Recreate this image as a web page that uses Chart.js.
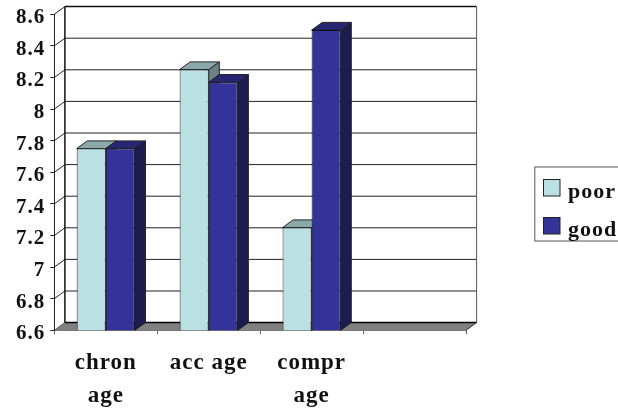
<!DOCTYPE html>
<html>
<head>
<meta charset="utf-8">
<title>Age chart</title>
<script src="https://cdn.jsdelivr.net/npm/chart.js@4/dist/chart.umd.min.js"></script>
<style>
  html, body { margin: 0; padding: 0; background: #fff; }
  canvas { display: block; }
</style>
</head>
<body>
<canvas id="chart" width="618" height="408"></canvas>
<script>
const categories = [["chron", "age"], "acc age", ["compr", "age"], ""];
const poorValues = [7.75, 8.25, 7.25, null];
const goodValues = [7.75, 8.17, 8.5, null];
const yTicks = [6.6, 6.8, 7, 7.2, 7.4, 7.6, 7.8, 8, 8.2, 8.4, 8.6];

const DEPTH_X = 10.6;
const DEPTH_Y = -7.7;
const FONT = { family: "'Liberation Serif', serif", weight: "bold", size: 21 };

function poly(ctx, points, fill, stroke) {
  ctx.beginPath();
  points.forEach((p, i) => (i ? ctx.lineTo(p[0], p[1]) : ctx.moveTo(p[0], p[1])));
  ctx.closePath();
  ctx.fillStyle = fill;
  ctx.fill();
  if (stroke) {
    ctx.lineWidth = 1;
    ctx.strokeStyle = stroke;
    ctx.stroke();
  }
}

function line(ctx, x1, y1, x2, y2, color, width) {
  ctx.beginPath();
  ctx.moveTo(x1, y1);
  ctx.lineTo(x2, y2);
  ctx.lineWidth = width || 1;
  ctx.strokeStyle = color;
  ctx.stroke();
}

const depthPlugin = {
  id: "depth",
  afterLayout(chart) {
    // the legend sits outside the plot and runs off the right edge
    const legend = chart.legend;
    legend.left = 527.3;
    legend.right = 700;
    legend.top = 165.5;
    legend.bottom = 300;
  },
  beforeDraw(chart) {
    chart.ctx.letterSpacing = "1px";
    const ctx = chart.ctx;
    ctx.save();
    ctx.lineWidth = 1;
    ctx.strokeStyle = "#555";
    ctx.strokeRect(534.8, 167, 100, 74);
    // swatches sit higher than the legend text, the library centres them on it
    chart.data.datasets.forEach((ds, i) => {
      ctx.fillStyle = ds.backgroundColor;
      ctx.fillRect(543.5, 179.5 + i * 38, 16.5, 16.5);
      ctx.strokeStyle = "#222";
      ctx.strokeRect(543.5, 179.5 + i * 38, 16.5, 16.5);
    });
    ctx.restore();
  },
  beforeDatasetsDraw(chart) {
    const ctx = chart.ctx;
    const { left, right, top, bottom } = chart.chartArea;
    const yScale = chart.scales.y;
    ctx.save();
    // back wall grid lines
    yTicks.slice(1, -1).forEach((v) => {
      const y = yScale.getPixelForValue(v) + DEPTH_Y;
      line(ctx, left + DEPTH_X, y, right + DEPTH_X, y, "#222");
    });
    // side ticks running back from the front axis
    yTicks.forEach((v) => {
      const y = yScale.getPixelForValue(v);
      line(ctx, left, y, left + DEPTH_X, y + DEPTH_Y, "#222");
    });
    // floor
    poly(ctx, [
      [left, bottom],
      [left + DEPTH_X, bottom + DEPTH_Y],
      [right + DEPTH_X, bottom + DEPTH_Y],
      [right, bottom],
    ], "#808080");
    line(ctx, left + DEPTH_X, bottom + DEPTH_Y, right + DEPTH_X, bottom + DEPTH_Y, "#000", 1.5);
    line(ctx, right, bottom, right + DEPTH_X, bottom + DEPTH_Y, "#333");
    // walls
    line(ctx, left + DEPTH_X, top + DEPTH_Y, right + DEPTH_X, top + DEPTH_Y, "#111", 1.5);
    line(ctx, left + DEPTH_X, top + DEPTH_Y, left + DEPTH_X, bottom + DEPTH_Y, "#111", 1.5);
    line(ctx, right + DEPTH_X, top + DEPTH_Y, right + DEPTH_X, bottom + DEPTH_Y, "#555", 1);
    // bar tops and sides, fronts are drawn by the library afterwards
    chart.data.datasets.forEach((ds, di) => {
      chart.getDatasetMeta(di).data.forEach((bar, i) => {
        if (ds.data[i] == null) return;
        const x1 = bar.x - bar.width / 2;
        const x2 = bar.x + bar.width / 2;
        poly(ctx, [
          [x2, bar.y],
          [x2 + DEPTH_X, bar.y + DEPTH_Y],
          [x2 + DEPTH_X, bottom + DEPTH_Y],
          [x2, bottom],
        ], ds.sideColor, "#222");
        poly(ctx, [
          [x1, bar.y],
          [x1 + DEPTH_X, bar.y + DEPTH_Y],
          [x2 + DEPTH_X, bar.y + DEPTH_Y],
          [x2, bar.y],
        ], ds.topColor, "#222");
      });
    });
    ctx.restore();
  },
};

new Chart(document.getElementById("chart"), {
  type: "bar",
  data: {
    labels: categories,
    datasets: [
      {
        label: "poor",
        data: poorValues,
        backgroundColor: "#BAE0E3",
        topColor: "#8BA8AA",
        sideColor: "#6C8183",
        borderColor: "#333",
        borderWidth: 1,
        borderSkipped: false,
      },
      {
        label: "good",
        data: goodValues,
        backgroundColor: "#333399",
        topColor: "#262673",
        sideColor: "#1C1C50",
        borderColor: "#111",
        borderWidth: 1,
        borderSkipped: false,
      },
    ],
  },
  options: {
    responsive: false,
    animation: false,
    layout: { padding: { left: 0, top: 14.3, right: 152, bottom: 0 } },
    categoryPercentage: 0.565,
    barPercentage: 1,
    scales: {
      x: {
        afterFit: (scale) => {
          scale.height = 77.7;
          scale.paddingLeft = 0;
          scale.paddingRight = 0;
        },
        grid: { drawOnChartArea: false, tickLength: 4, color: "#666" },
        border: { color: "#777" },
        ticks: {
          autoSkip: false,
          maxRotation: 0,
          color: "#111",
          padding: 12,
          font: { ...FONT, size: 23, lineHeight: "33px" },
        },
      },
      y: {
        min: 6.6,
        max: 8.6,
        afterBuildTicks: (scale) => {
          scale.ticks = yTicks.map((value) => ({ value }));
        },
        afterFit: (scale) => {
          scale.width = 54.3;
          scale.paddingTop = 0;
          scale.paddingBottom = 0;
        },
        grid: { drawOnChartArea: false, tickLength: 4, color: "#222" },
        border: { color: "#222" },
        ticks: {
          color: "#111",
          padding: 5,
          // empty first line pushes the label a little below its tick
          callback: (value) => ["", String(value)],
          font: { ...FONT, lineHeight: "7px" },
        },
      },
    },
    plugins: {
      tooltip: { enabled: false },
      legend: {
        position: "chartArea",
        align: "start",
        labels: {
          boxWidth: 13.7,
          boxHeight: 13.7,
          padding: 16,
          color: "#111",
          font: { ...FONT, size: 22 },
          generateLabels: (chart) =>
            Chart.defaults.plugins.legend.labels.generateLabels(chart).map((item) => ({
              ...item,
              fillStyle: "rgba(0,0,0,0)",
              strokeStyle: "rgba(0,0,0,0)",
              lineWidth: 0,
            })),
        },
      },
    },
  },
  plugins: [depthPlugin],
});
</script>
</body>
</html>
